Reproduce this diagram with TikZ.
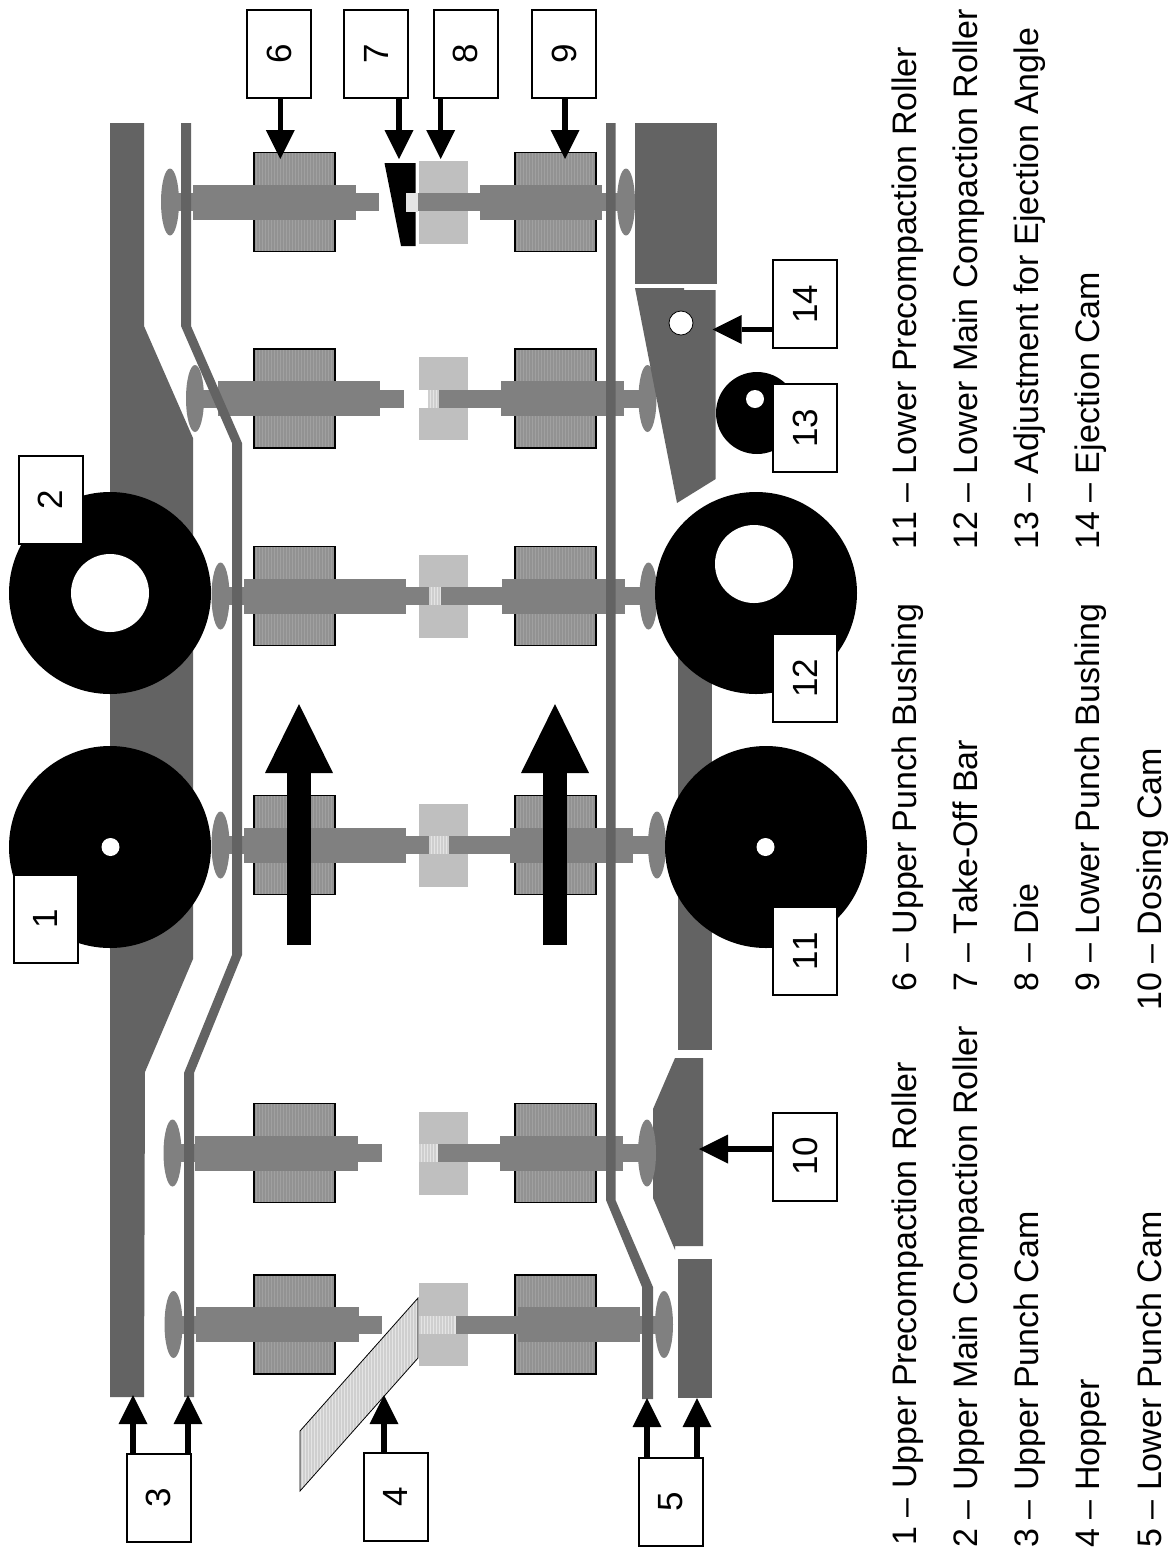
\documentclass[tikz,border=0pt]{standalone}
\usepackage{fontspec}
\usepackage{graphicx}
\setmainfont[Kerning=Off]{Liberation Sans}
\usetikzlibrary{arrows.meta}
\definecolor{camgray}{HTML}{636363}
\definecolor{punchgray}{HTML}{808080}
\definecolor{diegray}{HTML}{BFBFBF}
\definecolor{bushA}{HTML}{A0A0A0}
\definecolor{bushB}{HTML}{929292}
\definecolor{hatchA}{HTML}{E4E4E4}
\definecolor{hatchB}{HTML}{CFCFCF}
\tikzset{
  numbox/.style={draw=black,fill=white,line width=1pt,minimum width=32pt,minimum height=44pt,inner sep=0pt,outer sep=0pt,font=\fontsize{17.5}{20}\selectfont},
  legend/.style={rotate=90,anchor=base west,inner sep=0pt,font=\fontsize{17}{20}\selectfont},
  arr/.style={line width=2.75pt,draw=black,-{Triangle[length=14.5pt,width=14.5pt,line width=0pt]}},
  bigarr/.style={line width=12pt,draw=black,-{Triangle[length=34.5pt,width=34pt,line width=0pt]}},
  camfill/.style={fill=camgray},
  punchfill/.style={fill=punchgray},
}
\newcommand{\bushing}[2]{% left x, centre y
  \fill[bushA] (#1,#2-49.5) rectangle (#1+81,#2+49.5);
  \foreach \d in {0,3,...,78}{\fill[bushB] (#1+\d,#2-49.5) rectangle (#1+\d+1.5,#2+49.5);}
  \draw[black,line width=0.7pt] (#1,#2-49.5) rectangle (#1+81,#2+49.5);
}
\newcommand{\upperpunch}[5]{% cy, ellipse cx, body l, body r, tip
  \fill[punchfill] (#2,#1-9) rectangle (#5,#1+9);
  \fill[punchfill] (#3,#1-17.5) rectangle (#4,#1+17.5);
  \fill[punchfill] (#2,#1) ellipse [x radius=9,y radius=33.5];
}
\newcommand{\lowerpunch}[5]{% cy, stem start, body l, body r, ellipse cx
  \fill[punchfill] (#2,#1-9) rectangle (#5,#1+9);
  \fill[punchfill] (#3,#1-17.5) rectangle (#4,#1+17.5);
  \fill[punchfill] (#5,#1) ellipse [x radius=9,y radius=33.5];
}
\newcommand{\die}[3]{% cy, hatch start, hatch end
  \fill[diegray] (419,#1-41.5) rectangle (468,#1-9);
  \fill[diegray] (419,#1+9) rectangle (468,#1+41.5);
  \fill[hatchA] (#2,#1-9) rectangle (#3,#1+9);
  \pgfmathsetmacro{\hend}{#3-1.5}
  \pgfmathsetmacro{\hnext}{#2+3}
  \foreach \d in {#2,\hnext,...,\hend}{\fill[hatchB] (\d,#1-9) rectangle (\d+1.5,#1+9);}
}
\begin{document}
\begin{tikzpicture}[x=0.5pt,y=-0.5pt]
\useasboundingbox (0,0) rectangle (1174,1549);
% bushings
\foreach \cy in {202,398.5,596,845,1153,1324.5}{\bushing{254}{\cy}\bushing{515}{\cy}}
% dies
\die{202}{406}{418}
\die{398.5}{428}{439}
\die{596}{429}{441}
\die{845}{429}{449}
\die{1153}{419}{438}
\die{1324.5}{419}{456}
% dosing cam lies under the follower
\fill[camfill] (675,1058) -- (703,1058) -- (703,1246) -- (675,1246) -- (675,1250) -- (653,1198) -- (653,1109) -- cycle;
% punches
\upperpunch{202}{170}{193}{355.5}{379}
\lowerpunch{202}{418}{480}{602}{626}
\upperpunch{398.5}{195}{218}{380}{404}
\lowerpunch{398.5}{439}{501}{624}{647.5}
\upperpunch{596}{220.5}{244}{406}{429}
\lowerpunch{596}{441}{502}{625}{648.5}
\upperpunch{845}{220.5}{244}{406}{429}
\lowerpunch{845}{449}{510}{633}{657}
\upperpunch{1153}{172.5}{195}{358}{382}
\lowerpunch{1153}{438}{500}{623}{647}
\upperpunch{1324.5}{173.5}{196}{359}{382}
\lowerpunch{1324.5}{456}{518}{640}{664}
% take-off bar
\fill[black] (384.5,163) -- (415.5,163) -- (415.5,246) -- (401,246) -- cycle;
\fill[hatchA] (406,193) rectangle (418,212);
% upper cams
\fill[camfill] (110,123) -- (144,123) -- (144,326) -- (193,438) -- (193,959) -- (145,1072) -- (144,1397) -- (110,1397) -- cycle;
\fill[camfill] (181,123) -- (191,123) -- (191,326) -- (242,443) -- (242,955) -- (194,1073) -- (194,1397) -- (184,1397) -- (184,1073) -- (232,955) -- (232,443) -- (181,326) -- cycle;
% lower cams
\fill[camfill] (606,123) -- (615.5,123) -- (615.5,1200) -- (653,1287) -- (653,1399) -- (642,1399) -- (642,1287) -- (606,1200) -- cycle;
\fill[camfill] (635,123) rectangle (717,284);
\fill[camfill] (635,288) -- (684,288) -- (684,290) -- (715.7,290) -- (715.7,479) -- (677,503) -- cycle;
\filldraw[fill=white,draw=black,line width=0.4pt] (681,323) circle [radius=12];
\fill[camfill] (678,600) rectangle (712,1050);
\fill[camfill] (678,1259) rectangle (712,1398);
% hopper
\begin{scope}
\clip (418,1298) -- (418,1358) -- (300,1491) -- (300,1431) -- cycle;
\fill[hatchA] (300,1298) rectangle (418,1491);
\foreach \d in {300,303,...,418}{\fill[hatchB] (\d,1298) rectangle (\d+1.5,1491);}
\end{scope}
\draw[black,line width=0.4pt] (418,1298) -- (418,1358) -- (300,1491) -- (300,1431) -- cycle;
% rollers
\fill[black] (110,847) circle [radius=101];
\fill[white] (110.5,847) circle [radius=9];
\fill[black] (110,593) circle [radius=101];
\fill[white] (110,593) circle [radius=39];
\fill[black] (766,847) circle [radius=101];
\fill[white] (765.5,847) circle [radius=9];
\fill[black] (756,593) circle [radius=101];
\fill[white] (754,564) circle [radius=39];
\fill[black] (757,413) circle [radius=41];
\fill[white] (755,399) circle [radius=9];
% motion arrows
\coordinate (mA0) at (299,945);
\coordinate (mA1) at (299,704);
\coordinate (mB0) at (555,945);
\coordinate (mB1) at (555,704);
\draw[bigarr] (mA0) -- (mA1);
\draw[bigarr] (mB0) -- (mB1);
% numbered boxes
\node[numbox] (b1) at (45.5,918.5) {\rotatebox{90}{1}};
\node[numbox] (b2) at (50.5,499.5) {\rotatebox{90}{2}};
\node[numbox] (b3) at (158.5,1497.5) {\rotatebox{90}{3}};
\node[numbox] (b4) at (395.5,1497) {\rotatebox{90}{4}};
\node[numbox] (b5) at (670.5,1501.5) {\rotatebox{90}{5}};
\node[numbox] (b6) at (279,53.5) {\rotatebox{90}{6}};
\node[numbox] (b7) at (376,53.5) {\rotatebox{90}{7}};
\node[numbox] (b8) at (465.5,53.5) {\rotatebox{90}{8}};
\node[numbox] (b9) at (564,53.5) {\rotatebox{90}{9}};
\node[numbox] (b10) at (805,1156.5) {\rotatebox{90}{10}};
\node[numbox] (b11) at (805,951) {\rotatebox{90}{11}};
\node[numbox] (b12) at (805,678) {\rotatebox{90}{12}};
\node[numbox] (b13) at (805,428) {\rotatebox{90}{13}};
\node[numbox] (b14) at (805,304) {\rotatebox{90}{14}};
% arrow tips
\coordinate (t3a) at (133,1395);
\coordinate (t3b) at (188,1395);
\coordinate (t4) at (384,1395);
\coordinate (t5a) at (647,1398);
\coordinate (t5b) at (697,1398);
\coordinate (t6) at (280.3,159);
\coordinate (t7) at (399,159);
\coordinate (t8) at (440.7,159);
\coordinate (t9) at (565,159);
\coordinate (t10) at (699,1149);
\coordinate (t14) at (712.7,329.5);
\draw[arr] (t3a |- b3.north) -- (t3a);
\draw[arr] (t3b |- b3.north) -- (t3b);
\draw[arr] (t4 |- b4.north) -- (t4);
\draw[arr] (t5a |- b5.north) -- (t5a);
\draw[arr] (t5b |- b5.north) -- (t5b);
\draw[arr] (t6 |- b6.south) -- (t6);
\draw[arr] (t7 |- b7.south) -- (t7);
\draw[arr] (t8 |- b8.south) -- (t8);
\draw[arr] (t9 |- b9.south) -- (t9);
\draw[arr] (b10.west |- t10) -- (t10);
\draw[arr] (b14.west |- t14) -- (t14);
% legend
\node[legend] (l1) at (916,1546) {1 – Upper Precompaction Roller};
\node[legend] (l2) at (977,1548) {2 – Upper Main Compaction Roller};
\node[legend] (l3) at (1038,1548) {3 – Upper Punch Cam};
\node[legend] (l4) at (1099,1548) {4 – Hopper};
\node[legend] (l5) at (1161,1548) {5 – Lower Punch Cam};
\node[legend] (l6) at (916,991.5) {6 – Upper Punch Bushing};
\node[legend] (l7) at (977,991.5) {7 – Take-Off Bar};
\node[legend] (l8) at (1038,991.5) {8 – Die};
\node[legend] (l9) at (1099,991.5) {9 – Lower Punch Bushing};
\node[legend] (l10) at (1161,1011) {10 – Dosing Cam};
\node[legend] (l11) at (916,550) {11 – Lower Precompaction Roller};
\node[legend] (l12) at (977,550) {12 – Lower Main Compaction Roller};
\node[legend] (l13) at (1038,550) {13 – Adjustment for Ejection Angle};
\node[legend] (l14) at (1099,550) {14 – Ejection Cam};
\end{tikzpicture}
\end{document}
